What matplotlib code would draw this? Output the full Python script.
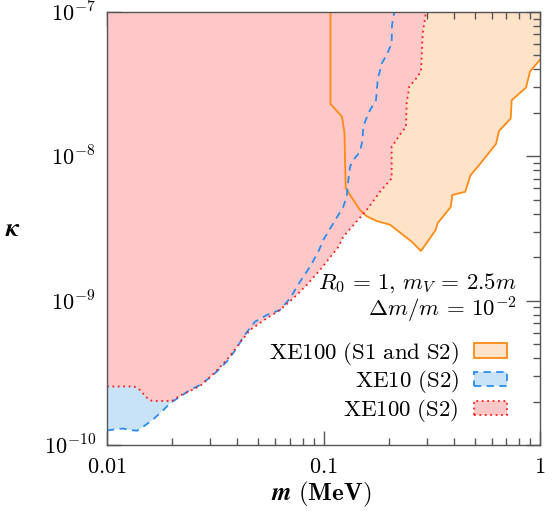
import matplotlib
matplotlib.use("Agg")
import matplotlib.pyplot as plt
import numpy as np
from matplotlib.patches import Patch
from matplotlib.ticker import FixedLocator, FuncFormatter, LogLocator, NullFormatter

plt.rcParams['mathtext.fontset'] = 'cm'
plt.rcParams['font.family'] = ['DejaVu Serif']

# XE100 (S1 and S2) boundary
m_s1s2 = [0.1077, 0.1077, 0.1217, 0.1250, 0.1266, 0.1293, 0.1373, 0.1474, 0.1583, 0.1761,
          0.2028, 0.2422, 0.2555, 0.2820, 0.3298, 0.3369, 0.3869, 0.3935, 0.4519, 0.4767,
          0.5352, 0.6262, 0.6464, 0.7322, 0.7400, 0.8615, 0.8991, 1.0]
k_s1s2 = [1.0e-7, 2.305e-8, 1.882e-8, 1.451e-8, 6.005e-9, 5.752e-9, 4.982e-9, 4.246e-9, 3.841e-9, 3.563e-9,
          3.359e-9, 2.730e-9, 2.562e-9, 2.209e-9, 3.087e-9, 3.451e-9, 4.455e-9, 5.397e-9, 5.688e-9, 7.365e-9,
          9.063e-9, 1.218e-8, 1.498e-8, 1.829e-8, 2.448e-8, 2.988e-8, 3.870e-8, 4.665e-8]

# XE10 (S2) boundary
m_xe10 = [0.01, 0.01089, 0.01186, 0.01277, 0.01376, 0.01471, 0.01637, 0.01820, 0.01954, 0.02174,
          0.02417, 0.02690, 0.03097, 0.03571, 0.03972, 0.04262, 0.04827, 0.05465, 0.06297, 0.07003,
          0.07790, 0.08662, 0.09462, 0.09979, 0.1110, 0.1234, 0.1280, 0.1302, 0.1326, 0.1373,
          0.1474, 0.1514, 0.1527, 0.1610, 0.1748, 0.1780, 0.1857, 0.1958, 0.2065, 0.2072, 0.2123]
k_xe10 = [1.260e-10, 1.284e-10, 1.301e-10, 1.270e-10, 1.256e-10, 1.339e-10, 1.507e-10, 1.747e-10, 1.944e-10, 2.161e-10,
          2.404e-10, 2.603e-10, 3.054e-10, 3.776e-10, 4.676e-10, 5.627e-10, 7.147e-10, 7.955e-10, 8.617e-10, 1.038e-9,
          1.353e-9, 1.719e-9, 2.184e-9, 2.632e-9, 3.436e-9, 4.477e-9, 5.253e-9, 6.855e-9, 8.474e-9, 9.432e-9,
          1.077e-8, 1.298e-8, 1.604e-8, 1.986e-8, 2.456e-8, 3.380e-8, 4.412e-8, 5.036e-8, 6.067e-8, 8.127e-8, 1.0e-7]

# XE100 (S2) boundary
m_xe100 = [0.01, 0.01333, 0.01420, 0.01514, 0.01597, 0.01666, 0.01996, 0.02174, 0.02417, 0.02690,
           0.03097, 0.03571, 0.04006, 0.04575, 0.05465, 0.06297, 0.07253, 0.08365, 0.09634, 0.1171,
           0.1234, 0.1583, 0.1824, 0.2065, 0.2065, 0.2178, 0.2215, 0.2405, 0.2422, 0.2490,
           0.2646, 0.2820, 0.2872, 0.2974]
k_xe100 = [2.543e-10, 2.543e-10, 2.404e-10, 2.150e-10, 2.033e-10, 2.017e-10, 2.017e-10, 2.203e-10, 2.366e-10, 2.563e-10,
           3.104e-10, 3.880e-10, 4.851e-10, 6.261e-10, 7.546e-10, 8.617e-10, 1.038e-9, 1.284e-9, 1.631e-9, 2.353e-9,
           2.774e-9, 4.246e-9, 5.688e-9, 7.043e-9, 1.166e-8, 1.298e-8, 1.368e-8, 1.604e-8, 2.331e-8, 3.037e-8,
           3.380e-8, 3.858e-8, 7.118e-8, 1.0e-7]

labels = [r'$\mathrm{XE100\ (S1\ and\ S2)}$', r'$\mathrm{XE10\ (S2)}$', r'$\mathrm{XE100\ (S2)}$']
xlim = (0.01, 1.0)
ylim = (1e-10, 1e-7)
xticks = [0.01, 0.1, 1]
xticklabels = ['0.01', '0.1', '1']
yticks = [1e-10, 1e-9, 1e-8, 1e-7]
yticklabels = [r'$10^{-10}$', r'$10^{-9}$', r'$10^{-8}$', r'$10^{-7}$']

c_or_fill, c_or_line = '#FFE3C8', '#FF8A14'
c_bl_fill, c_bl_line = '#C8E3F8', '#2A8CF0'
c_rd_fill, c_rd_line = '#FFC8C8', '#FF1A1A'

fig = plt.figure(figsize=(5.55, 5.11), dpi=100)
ax = fig.add_axes([107/555, 66/511, 433/555, 433/511])
ax.set_xscale('log')
ax.set_yscale('log')
ax.set_xlim(*xlim)
ax.set_ylim(*ylim)

# fills
ax.fill(list(m_s1s2) + [xlim[1]], list(k_s1s2) + [ylim[1]], color=c_or_fill, lw=0, zorder=1)
ax.fill([xlim[0]] + list(m_xe10), [ylim[1]] + list(k_xe10), color=c_bl_fill, lw=0, zorder=2)
ax.fill([xlim[0]] + list(m_xe100), [ylim[1]] + list(k_xe100), color=c_rd_fill, lw=0, zorder=3)

# boundary lines
ax.plot(m_s1s2, k_s1s2, color=c_or_line, lw=1.3, zorder=5)
ax.plot(m_xe10, k_xe10, color=c_bl_line, lw=1.3, ls=(0, (4, 3)), zorder=5)
ax.plot(m_xe100, k_xe100, color=c_rd_line, lw=1.3, ls=(0, (1, 2)), zorder=5)

# ticks
ax.xaxis.set_major_locator(FixedLocator(xticks))
ax.xaxis.set_major_formatter(FuncFormatter(
    lambda v, p: '$' + xticklabels[int(np.argmin([abs(np.log10(t) - np.log10(v)) for t in xticks]))] + '$'))
ax.xaxis.set_minor_locator(LogLocator(base=10, subs=np.arange(2, 10)))
ax.xaxis.set_minor_formatter(NullFormatter())
ax.yaxis.set_major_locator(FixedLocator(yticks))
ax.yaxis.set_major_formatter(FuncFormatter(lambda v, p: yticklabels[int(round(np.log10(v))) + 10]))
ax.yaxis.set_minor_locator(LogLocator(base=10, subs=np.arange(2, 10)))
ax.yaxis.set_minor_formatter(NullFormatter())
ax.tick_params(which='both', direction='in', top=True, right=True, color='#555555', labelsize=16, width=1.0)
ax.tick_params(which='major', length=10, pad=8)
ax.tick_params(which='minor', length=5)
for s in ax.spines.values():
    s.set_color('#555555')
    s.set_linewidth(1.0)
    s.set_zorder(10)

xl = fig.text(321/555, 1 - 494/511, r'$\mathbfit{m}\ \mathbf{(MeV)}$', ha='center', va='center', fontsize=18)
yl = fig.text(13/555, 1 - 228/511, r'$\mathbfit{\kappa}$', ha='center', va='center', fontsize=19)

# annotation
ax.text(0.947, 0.374, r'$R_0\,=\,1,\, m_V\,=\,2.5m$', transform=ax.transAxes, ha='right', va='center', fontsize=16.5)
ax.text(0.947, 0.311, r'$\Delta m/m\,=\,10^{-2}$', transform=ax.transAxes, ha='right', va='center', fontsize=16.5)

handles = [
    Patch(facecolor=c_or_fill, edgecolor=c_or_line, lw=1.3),
    Patch(facecolor=c_bl_fill, edgecolor=c_bl_line, lw=1.3, ls=(0, (4, 3))),
    Patch(facecolor=c_rd_fill, edgecolor=c_rd_line, lw=1.3, ls=(0, (1, 2))),
]
leg = ax.legend(handles, labels, loc='center right', bbox_to_anchor=(0.924, 0.146), frameon=False,
                markerfirst=False, fontsize=16.5, handlelength=1.45, handleheight=0.6,
                handletextpad=0.65, labelspacing=0.07, borderpad=0, borderaxespad=0)

try:
    fig.savefig('out.png', dpi=100)
except Exception:
    xl.set_text(r'$m\ \mathbf{(MeV)}$')
    yl.set_text(r'$\kappa$')
    fig.savefig('out.png', dpi=100)
